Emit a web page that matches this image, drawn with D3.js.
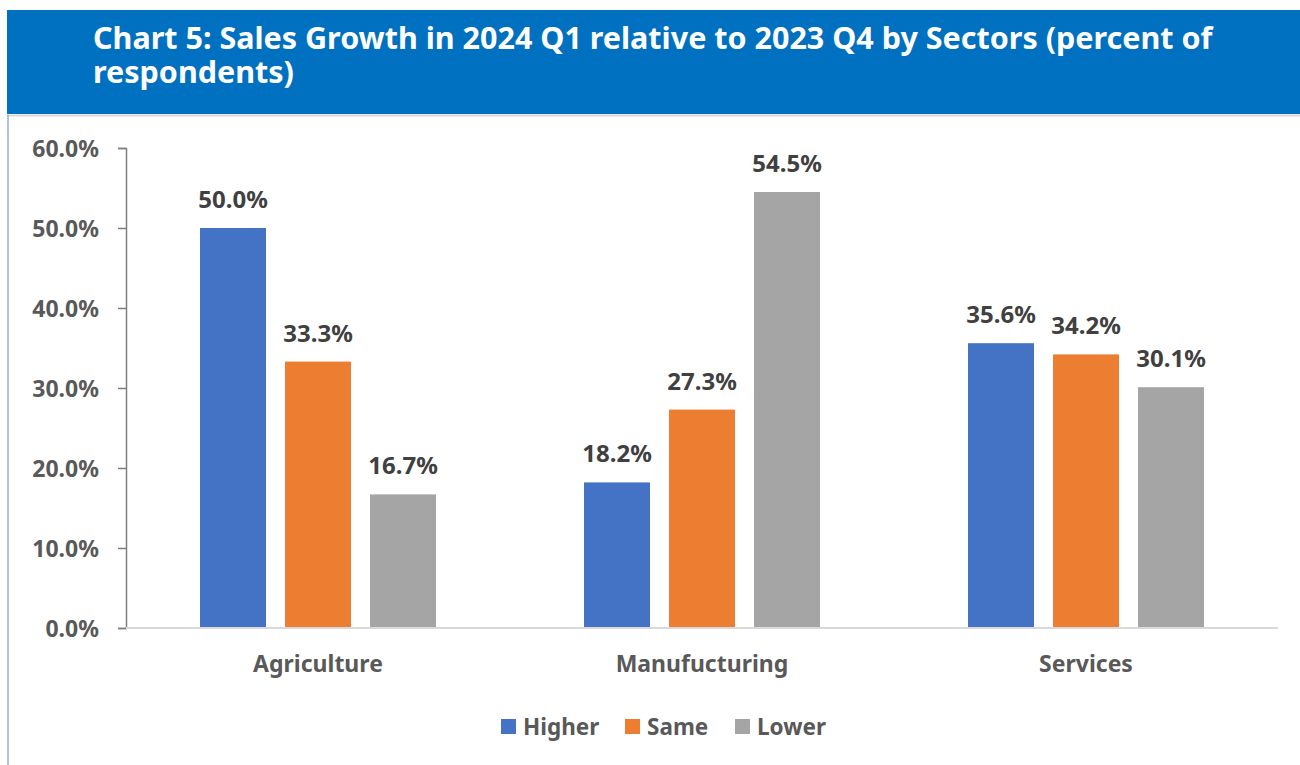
<!DOCTYPE html>
<html>
<head>
<meta charset="utf-8">
<script src="https://cdn.jsdelivr.net/npm/d3@7"></script>
<style>
  html, body { margin: 0; padding: 0; background: #fff; }
  svg { display: block; font-family: "Noto Sans", "Open Sans", sans-serif; }
</style>
</head>
<body>
<svg id="chart" width="1300" height="765"></svg>
<script>
// Survey results: share of respondents by sector and sales direction
const sectors = ["Agriculture", "Manufucturing", "Services"];
const seriesNames = ["Higher", "Same", "Lower"];
const higher = [50.0, 18.2, 35.6];
const same = [33.3, 27.3, 34.2];
const lower = [16.7, 54.5, 30.1];
const yTicks = [0, 10, 20, 30, 40, 50, 60];
const colors = ["#4472c4", "#ed7d31", "#a5a5a5"];
const titleLines = [
  "Chart 5: Sales Growth in 2024 Q1 relative to 2023 Q4 by Sectors (percent of",
  "respondents)"
];

const values = [higher, same, lower];
const svg = d3.select("#chart");

// Header band
svg.append("rect").attr("x", 7).attr("y", 10).attr("width", 1293).attr("height", 104).attr("fill", "#0070c0");
svg.append("line").attr("x1", 7).attr("x2", 1300).attr("y1", 115.5).attr("y2", 115.5)
  .attr("stroke", "#d9d9d9").attr("stroke-width", 2);
svg.append("line").attr("x1", 8).attr("x2", 8).attr("y1", 115).attr("y2", 765)
  .attr("stroke", "#8497c9").attr("stroke-width", 1.2);

const title = svg.append("text").attr("fill", "#fff").attr("font-weight", 700).attr("font-size", 30.5);
titleLines.forEach((t, i) => {
  title.append("tspan").attr("x", 93).attr("y", 49 + i * 34).text(t);
});

// Plot area
const margin = { left: 126, right: 1278, top: 148, bottom: 628 };
const x0 = d3.scaleBand().domain(sectors).range([margin.left, margin.right]);
const x1 = d3.scaleBand().domain(seriesNames).range([74, 310]).paddingInner(0.2235).paddingOuter(0);
const y = d3.scaleLinear().domain([0, 60]).range([margin.bottom, margin.top]);

// Y axis with percent ticks
const yAxis = d3.axisLeft(y).tickValues(yTicks).tickSize(8).tickPadding(19)
  .tickFormat(d => d.toFixed(1) + "%");
const gy = svg.append("g").attr("transform", `translate(${margin.left},0)`).call(yAxis);
gy.select(".domain").attr("stroke", "#7f7f7f").attr("stroke-width", 1.5);
gy.selectAll(".tick line").attr("stroke", "#7f7f7f").attr("stroke-width", 1.5);
gy.selectAll(".tick text").attr("fill", "#595959").attr("font-size", 23).attr("font-weight", 700)
  .attr("font-family", "'Noto Sans', sans-serif").attr("dy", "0.35em");

// Bars
const groups = svg.append("g").selectAll("g").data(sectors).join("g")
  .attr("transform", d => `translate(${x0(d)},0)`);

groups.selectAll("rect")
  .data((d, i) => seriesNames.map((s, j) => ({ s, v: values[j][i], c: colors[j] })))
  .join("rect")
  .attr("x", d => x1(d.s))
  .attr("width", x1.bandwidth())
  .attr("y", d => y(d.v))
  .attr("height", d => y(0) - y(d.v))
  .attr("fill", d => d.c);

groups.selectAll("text.val")
  .data((d, i) => seriesNames.map((s, j) => ({ s, v: values[j][i] })))
  .join("text")
  .attr("class", "val")
  .attr("x", d => x1(d.s) + x1.bandwidth() / 2)
  .attr("y", d => y(d.v) - 20)
  .attr("text-anchor", "middle")
  .attr("fill", "#404040")
  .attr("font-size", 24)
  .attr("font-weight", 700)
  .text(d => d.v.toFixed(1) + "%");

// Baseline
svg.append("line").attr("x1", margin.left).attr("x2", margin.right)
  .attr("y1", y(0)).attr("y2", y(0)).attr("stroke", "#d9d9d9").attr("stroke-width", 2);

// Category labels
svg.append("g").selectAll("text").data(sectors).join("text")
  .attr("x", d => x0(d) + x0.bandwidth() / 2)
  .attr("y", 672)
  .attr("text-anchor", "middle")
  .attr("fill", "#595959")
  .attr("font-size", 23)
  .attr("font-weight", 700)
  .text(d => d);

// Legend
const legendX = [501, 625, 735];
const legend = svg.append("g").selectAll("g").data(seriesNames).join("g")
  .attr("transform", (d, i) => `translate(${legendX[i]},719)`);
legend.append("rect").attr("width", 15).attr("height", 15).attr("fill", (d, i) => colors[i]);
legend.append("text").attr("x", 22).attr("y", 16)
  .attr("fill", "#595959").attr("font-size", 22.5).attr("font-weight", 700).text(d => d);
</script>
</body>
</html>
